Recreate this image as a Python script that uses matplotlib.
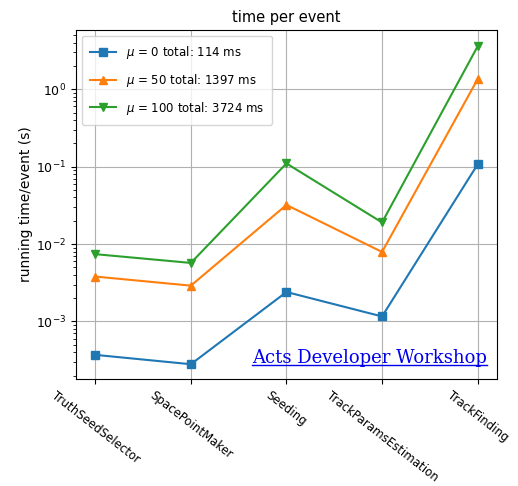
import numpy as np
import matplotlib.pyplot as plt
from matplotlib.lines import Line2D

algorithms = ["TruthSeedSelector", "SpacePointMaker", "Seeding",
              "TrackParamsEstimation", "TrackFinding"]

# running time per event in seconds, one list per pile-up
time_mu0 = [0.00037, 0.00028, 0.0024, 0.00116, 0.107]
time_mu50 = [0.0038, 0.0029, 0.032, 0.0079, 1.35]
time_mu100 = [0.0074, 0.0057, 0.11, 0.019, 3.58]

totals_ms = [114, 1397, 3724]
pileups = [0, 50, 100]

fig = plt.figure(figsize=(5.18, 4.86), dpi=100)
ax = fig.add_axes([0.147, 0.220, 0.812, 0.718])

x = np.arange(len(algorithms))
series = [time_mu0, time_mu50, time_mu100]
markers = ["s", "^", "v"]
colors = ["#1f77b4", "#ff7f0e", "#2ca02c"]
for vals, mu, tot, m, c in zip(series, pileups, totals_ms, markers, colors):
    ax.plot(x, vals, marker=m, color=c, lw=1.5, ms=6,
            label=r"$\mu$ = %d total: %d ms" % (mu, tot))

ax.set_yscale("log")
ax.set_ylim(1.8e-4, 5.8)
ax.set_xticks(x)
ax.set_xticklabels(algorithms, rotation=-38, ha="center", fontsize=8.5)
ax.tick_params(axis="y", labelsize=9)
ax.grid(True, color="#b0b0b0", lw=0.8)
ax.set_ylabel("running time/event (s)", fontsize=10, labelpad=2)
ax.set_title("time per event", fontsize=10.5)
ax.legend(loc="upper left", fontsize=8.5, borderpad=0.7, labelspacing=0.9,
          handlelength=2.2)

fig.text(0.486, 0.253, "Acts Developer Workshop", color="#0000ee",
         family="DejaVu Serif", fontsize=13)
fig.add_artist(Line2D([0.486, 0.940], [0.249, 0.249], color="#0000ee", lw=1,
                      transform=fig.transFigure))

fig.savefig("out.png", dpi=100)
